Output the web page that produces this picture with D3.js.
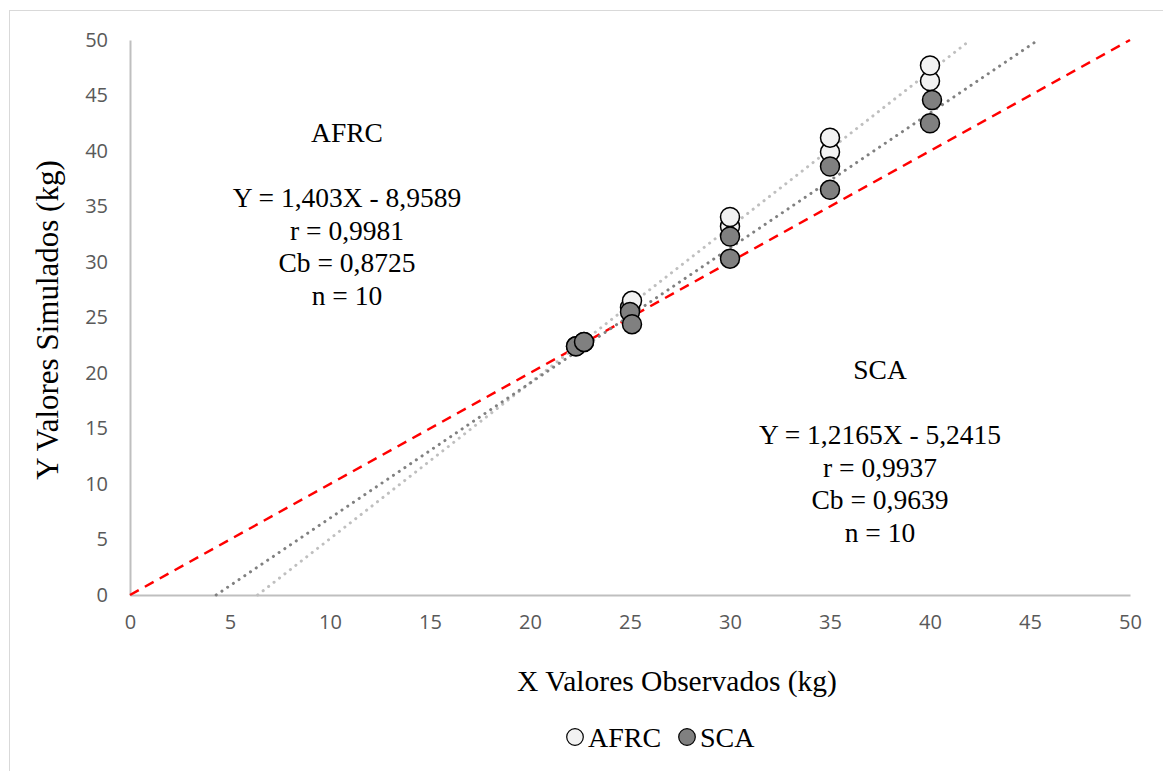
<!DOCTYPE html>
<html>
<head>
<meta charset="utf-8">
<script src="https://cdn.jsdelivr.net/npm/d3@7"></script>
<style>
  body { margin: 0; background: #fff; }
  .tick text { font-family: "Open Sans", sans-serif; font-size: 20px; fill: #595959; }
  .note { font-family: "Liberation Serif", "Times New Roman", serif; font-size: 27.5px; fill: #000; }
</style>
</head>
<body>
<div id="chart"></div>
<script>
// dados
const afrcX = [22.3, 22.7, 25.0, 25.1, 30.0, 30.0, 35.0, 35.0, 40.0, 40.0];
const afrcY = [22.4, 22.8, 25.9, 26.5, 33.2, 34.05, 39.9, 41.2, 46.3, 47.7];
const scaX = [22.3, 22.7, 25.0, 25.1, 30.0, 30.0, 35.0, 35.0, 40.1, 40.0];
const scaY = [22.4, 22.8, 25.5, 24.4, 32.3, 30.3, 38.6, 36.5, 44.6, 42.5];
const seriesNames = ['AFRC', 'SCA'];
const trendSlope = [1.403, 1.2165];
const trendIntercept = [-8.9589, -5.2415];
const xTicks = [0, 5, 10, 15, 20, 25, 30, 35, 40, 45, 50];
const yTicks = [0, 5, 10, 15, 20, 25, 30, 35, 40, 45, 50];
const afrcNote = ['AFRC', '', 'Y = 1,403X - 8,9589', 'r = 0,9981', 'Cb = 0,8725', 'n = 10'];
const scaNote = ['SCA', '', 'Y = 1,2165X - 5,2415', 'r = 0,9937', 'Cb = 0,9639', 'n = 10'];

const width = 1163, height = 771;
const svg = d3.select('#chart').append('svg')
    .attr('width', width)
    .attr('height', height);

// borda do gráfico
svg.append('rect')
    .attr('x', 9.5).attr('y', 10.5)
    .attr('width', 1170).attr('height', 770)
    .attr('fill', 'none')
    .attr('stroke', '#d9d9d9');

const x = d3.scaleLinear().domain([0, 50]).range([130, 1130]);
const y = d3.scaleLinear().domain([0, 50]).range([595, 40]);

// eixos
const xAxis = svg.append('g')
    .attr('transform', `translate(0,${y(0)})`)
    .call(d3.axisBottom(x).tickValues(xTicks).tickSize(0).tickPadding(20));
const yAxis = svg.append('g')
    .attr('transform', `translate(${x(0)},0)`)
    .call(d3.axisLeft(y).tickValues(yTicks).tickSize(0).tickPadding(22));
[xAxis, yAxis].forEach(a => {
    a.select('.domain').attr('stroke', '#bfbfbf').attr('stroke-width', 2);
});

// linha 1:1
svg.append('line')
    .attr('x1', x(0)).attr('y1', y(0))
    .attr('x2', x(50)).attr('y2', y(50))
    .attr('stroke', '#ff0000')
    .attr('stroke-width', 2.5)
    .attr('stroke-dasharray', '10,7');

// linhas de tendência
const trendColors = ['#bfbfbf', '#808080'];
seriesNames.forEach((name, i) => {
    const x0 = -trendIntercept[i] / trendSlope[i];
    const x1 = (50 - trendIntercept[i]) / trendSlope[i];
    svg.append('line')
        .attr('x1', x(x0)).attr('y1', y(0))
        .attr('x2', x(x1)).attr('y2', y(50))
        .attr('stroke', trendColors[i])
        .attr('stroke-width', 3)
        .attr('stroke-linecap', 'round')
        .attr('stroke-dasharray', '0.1,6.8');
});

// pontos
const fills = ['#f2f2f2', '#808080'];
const series = [
    afrcX.map((v, i) => [v, afrcY[i]]),
    scaX.map((v, i) => [v, scaY[i]])
];
series.forEach((pts, i) => {
    svg.append('g')
        .selectAll('circle')
        .data(pts)
        .enter().append('circle')
        .attr('cx', d => x(d[0]))
        .attr('cy', d => y(d[1]))
        .attr('r', 9.5)
        .attr('fill', fills[i])
        .attr('stroke', '#000')
        .attr('stroke-width', 1.5);
});

// anotações
function note(lines, cx, top) {
    svg.append('g').selectAll('text')
        .data(lines)
        .enter().append('text')
        .attr('class', 'note')
        .attr('x', cx)
        .attr('y', (d, i) => top + i * 32.5)
        .attr('text-anchor', 'middle')
        .text(d => d);
}
note(afrcNote, 347, 142);
note(scaNote, 880, 379);

// títulos dos eixos
svg.append('text')
    .attr('class', 'note')
    .attr('x', 677).attr('y', 691)
    .attr('text-anchor', 'middle')
    .style('font-size', '29.5px')
    .text('X Valores Observados (kg)');
svg.append('text')
    .attr('class', 'note')
    .attr('transform', 'translate(58,320) rotate(-90)')
    .attr('text-anchor', 'middle')
    .style('font-size', '31px')
    .text('Y Valores Simulados (kg)');

// legenda
const legend = svg.append('g');
const legendX = [575, 687];
seriesNames.forEach((name, i) => {
    legend.append('circle')
        .attr('cx', legendX[i]).attr('cy', 737)
        .attr('r', 8.3)
        .attr('fill', fills[i])
        .attr('stroke', '#000')
        .attr('stroke-width', 1.2);
    legend.append('text')
        .attr('class', 'note')
        .attr('x', legendX[i] + 13).attr('y', 747)
        .style('font-size', '28px')
        .text(name);
});
</script>
</body>
</html>
